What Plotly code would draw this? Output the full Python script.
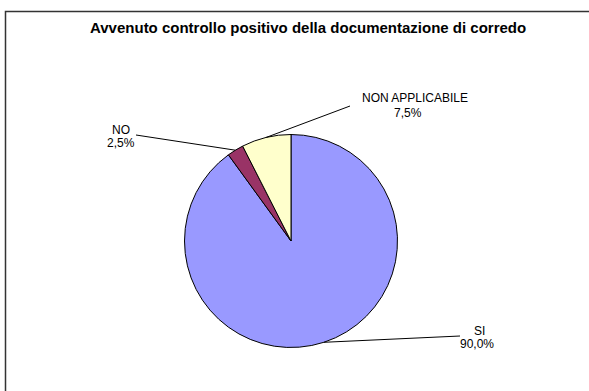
import math
import plotly.graph_objects as go

# Chart data
categories = ["SI", "NO", "NON APPLICABILE"]
values = [90.0, 2.5, 7.5]
colors = ["#9999FF", "#993366", "#FFFFCC"]

W, H = 589, 391
FONT = "Arial, 'Liberation Sans', sans-serif"

# Pie geometry in pixels
CX, CY, R = 291, 241, 106.5

# Label placement (pixel centres of name / percentage lines) and leader end points
label_name_pos = {"SI": (479, 331), "NO": (121, 129.5), "NON APPLICABILE": (414.5, 97.5)}
label_pct_pos = {"SI": (477, 343.5), "NO": (120.7, 142.5), "NON APPLICABILE": (408, 112.5)}
leader_end = {"SI": (460, 336), "NO": (136, 135), "NON APPLICABILE": (350, 106)}


def px(x):
    return x / W


def py(y):
    return 1 - y / H


fig = go.Figure(
    go.Pie(
        labels=categories,
        values=values,
        marker=dict(colors=colors, line=dict(color="#000000", width=1)),
        sort=False,
        direction="clockwise",
        rotation=0,
        textinfo="none",
        hoverinfo="label+percent",
        showlegend=False,
        domain=dict(x=[px(CX - R), px(CX + R)], y=[py(CY + R), py(CY - R)]),
    )
)

shapes = []
annotations = []
total = sum(values)
cum = 0.0
for cat, v in zip(categories, values):
    theta = 2 * math.pi * (cum + v / 2) / total
    cum += v
    ex = CX + R * math.sin(theta)
    ey = CY - R * math.cos(theta)
    lx, ly = leader_end[cat]
    shapes.append(dict(type="line", xref="paper", yref="paper",
                       x0=px(ex), y0=py(ey), x1=px(lx), y1=py(ly),
                       line=dict(color="#000000", width=1)))
    nx, ny = label_name_pos[cat]
    annotations.append(dict(x=px(nx), y=py(ny), xref="paper", yref="paper",
                            text=cat, showarrow=False, xanchor="center", yanchor="middle",
                            font=dict(family=FONT, size=12, color="#000000")))
    pct = f"{100 * v / total:.1f}%".replace(".", ",")
    qx, qy = label_pct_pos[cat]
    annotations.append(dict(x=px(qx), y=py(qy), xref="paper", yref="paper",
                            text=pct, showarrow=False, xanchor="center", yanchor="middle",
                            font=dict(family=FONT, size=12, color="#000000")))

# Chart title
annotations.append(dict(x=px(307.5), y=py(27.5), xref="paper", yref="paper",
                        text="<b>Avvenuto controllo positivo della documentazione di corredo</b>",
                        showarrow=False, xanchor="center", yanchor="middle",
                        font=dict(family=FONT, size=15, color="#000000")))

# Chart-area frame
shapes.append(dict(type="rect", xref="paper", yref="paper",
                   x0=px(5.5), y0=py(11.5), x1=px(W + 20), y1=py(H + 20),
                   line=dict(color="#333333", width=1.5), fillcolor="rgba(0,0,0,0)"))

fig.update_layout(
    width=W, height=H,
    margin=dict(l=0, r=0, t=0, b=0),
    paper_bgcolor="#FFFFFF",
    plot_bgcolor="#FFFFFF",
    shapes=shapes,
    annotations=annotations,
)

fig.write_html("out.html")
